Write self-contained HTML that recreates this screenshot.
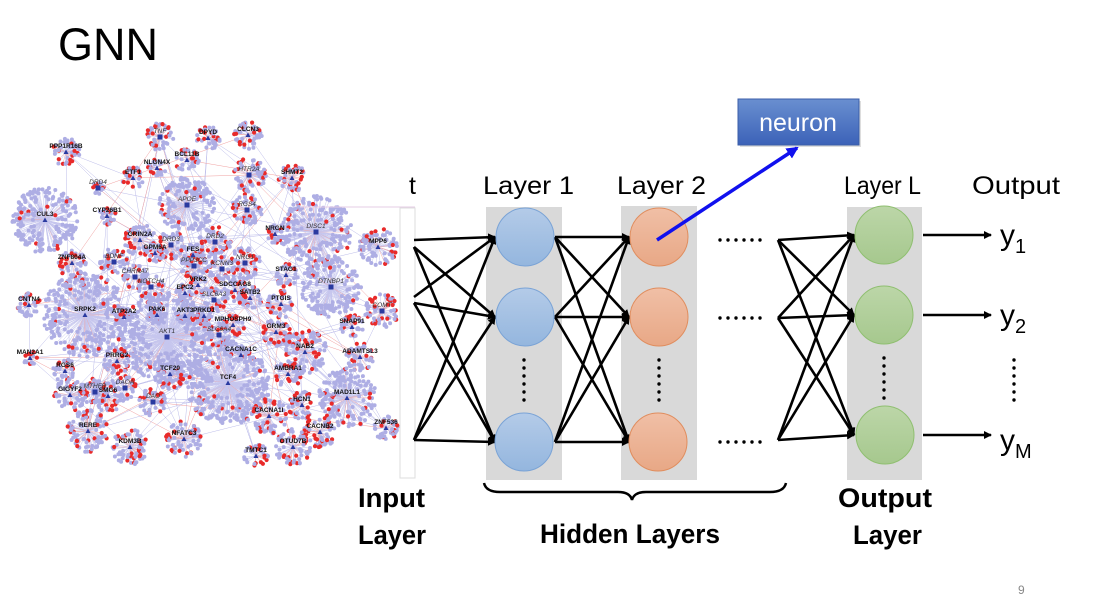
<!DOCTYPE html>
<html><head><meta charset="utf-8"><style>
html,body{margin:0;padding:0;background:#fff;}
svg{display:block;font-family:"Liberation Sans",sans-serif;}
</style></head><body>
<svg id="s" width="1098" height="606" viewBox="0 0 1098 606" xmlns="http://www.w3.org/2000/svg">
<defs>
<marker id="ah" markerWidth="8" markerHeight="8" refX="7" refY="4" orient="auto" markerUnits="userSpaceOnUse"><path d="M0,0 L8,4 L0,8 Z" fill="#000"/></marker>
<marker id="bh" markerWidth="12" markerHeight="12" refX="10" refY="6" orient="auto" markerUnits="userSpaceOnUse"><path d="M0,0 L12,6 L0,12 Z" fill="#1010ee"/></marker>
<linearGradient id="ng" x1="0" y1="0" x2="0" y2="1"><stop offset="0" stop-color="#6a8fd0"/><stop offset="1" stop-color="#3c62b8"/></linearGradient>
<linearGradient id="bg1" x1="0" y1="0" x2="0" y2="1"><stop offset="0" stop-color="#b4cbe8"/><stop offset="1" stop-color="#94b6de"/></linearGradient>
<linearGradient id="og1" x1="0" y1="0" x2="0" y2="1"><stop offset="0" stop-color="#f0bfa6"/><stop offset="1" stop-color="#e8a886"/></linearGradient>
<linearGradient id="gg1" x1="0" y1="0" x2="0" y2="1"><stop offset="0" stop-color="#bcd6a8"/><stop offset="1" stop-color="#a6c88e"/></linearGradient>
</defs>
<text x="58" y="60" font-size="45" fill="#000">GNN</text>
<g id="net"></g>
<rect x="400" y="208" width="15" height="270" fill="#fff" stroke="#ddd" stroke-width="1"/>
<line x1="300" y1="207" x2="415" y2="207" stroke="#e6cde6" stroke-width="1"/>
<rect x="486" y="207" width="76" height="273" fill="#d9d9d9"/>
<rect x="621" y="206" width="76" height="274" fill="#d9d9d9"/>
<rect x="847" y="207" width="75" height="273" fill="#d9d9d9"/>
<g id="lines" stroke="#000" stroke-width="2.6" fill="none"></g>
<g stroke-width="1">
<circle cx="525" cy="237" r="29" fill="url(#bg1)" stroke="#7aa3d6"/>
<circle cx="525" cy="317" r="29" fill="url(#bg1)" stroke="#7aa3d6"/>
<circle cx="524" cy="442" r="29" fill="url(#bg1)" stroke="#7aa3d6"/>
<circle cx="659" cy="237" r="29" fill="url(#og1)" stroke="#e08d5e"/>
<circle cx="659" cy="317" r="29" fill="url(#og1)" stroke="#e08d5e"/>
<circle cx="658" cy="442" r="29" fill="url(#og1)" stroke="#e08d5e"/>
<circle cx="884" cy="235" r="29" fill="url(#gg1)" stroke="#8fbf70"/>
<circle cx="884" cy="315" r="29" fill="url(#gg1)" stroke="#8fbf70"/>
<circle cx="885" cy="435" r="29" fill="url(#gg1)" stroke="#8fbf70"/>
</g>
<g id="dots" fill="#000"></g>
<rect x="740" y="101" width="121" height="46" fill="#aaa" opacity="0.4"/>
<rect x="738" y="99" width="121" height="46" fill="url(#ng)" stroke="#3b5ea8" stroke-width="1"/>
<text x="798" y="131" font-size="25" fill="#fff" text-anchor="middle">neuron</text>
<line x1="657" y1="240" x2="797" y2="148" stroke="#1010ee" stroke-width="3.5" marker-end="url(#bh)"/>
<g font-size="25" fill="#000">
<text x="409" y="194">t</text>
<text x="483" y="194" textLength="91" lengthAdjust="spacingAndGlyphs">Layer 1</text>
<text x="617" y="194" textLength="89" lengthAdjust="spacingAndGlyphs">Layer 2</text>
<text x="844" y="194" textLength="77" lengthAdjust="spacingAndGlyphs">Layer L</text>
<text x="972" y="194" textLength="88" lengthAdjust="spacingAndGlyphs">Output</text>
<text x="1000" y="245" font-size="30">y<tspan font-size="20" dy="8">1</tspan></text>
<text x="1000" y="325" font-size="30">y<tspan font-size="20" dy="8">2</tspan></text>
<text x="1000" y="450" font-size="30">y<tspan font-size="20" dy="8">M</tspan></text>
</g>
<g font-size="27" font-weight="bold" fill="#000">
<text x="358" y="507" textLength="67" lengthAdjust="spacingAndGlyphs">Input</text>
<text x="358" y="544" textLength="68" lengthAdjust="spacingAndGlyphs">Layer</text>
<text x="540" y="543" textLength="180" lengthAdjust="spacingAndGlyphs">Hidden Layers</text>
<text x="838" y="507" textLength="94" lengthAdjust="spacingAndGlyphs">Output</text>
<text x="853" y="544" textLength="69" lengthAdjust="spacingAndGlyphs">Layer</text>
</g>
<path d="M484,483 Q486,492 500,492 L618,492 Q630,492 632,500 Q634,492 646,492 L770,492 Q784,492 786,483" fill="none" stroke="#000" stroke-width="2.5"/>
<text x="1018" y="594" font-size="12" fill="#888">9</text>
</svg>
<script>
(function(){
var NS="http://www.w3.org/2000/svg";
function el(p,n,a){var e=document.createElementNS(NS,n);for(var k in a)e.setAttribute(k,a[k]);p.appendChild(e);return e;}
var L=document.getElementById('lines');
function ar(x1,y1,x2,y2){el(L,'line',{x1:x1,y1:y1,x2:x2,y2:y2,'marker-end':'url(#ah)'});}
var c1=[237,317,442];
[[240,[0]],[247,[1,2]],[297,[0]],[303,[1,2]],[440,[0,1,2]]].forEach(function(s){s[1].forEach(function(i){ar(414,s[0],495,c1[i]);});});
for(var i=0;i<3;i++)for(var j=0;j<3;j++)ar(555,c1[i],629,c1[j]);
var cL=[235,315,435],sL=[240,318,440];
for(var i=0;i<3;i++)for(var j=0;j<3;j++)ar(778,sL[i],854,cL[j]);
for(var i=0;i<3;i++)ar(923,cL[i],991,cL[i]);
var D=document.getElementById('dots');
[240,318,442].forEach(function(y){for(var k=0;k<6;k++)el(D,'circle',{cx:720+k*8,cy:y,r:1.7});});
[[524,0],[659,0],[884,-2],[1014,0]].forEach(function(p){for(var k=0;k<6;k++)el(D,'circle',{cx:p[0],cy:360+p[1]+k*8,r:1.7});});
var N=document.getElementById('net');
var seed=7;function r(){seed=(seed*16807)%2147483647;return (seed-1)/2147483646;}
var H=[["TNF",160,137,14,1],["DPYD",208,138,12,0],["CLCN3",248,135,14,0],["PPP1R16B",66,152,14,0],["BCL11B",187,160,12,0],["NLGN4X",157,168,9,0],["ETF1",133,178,11,0],["HTR2A",249,175,17,1],["SHMT2",292,178,14,0],["DRD4",98,188,6,1],["APOE",187,205,28,1],["CYP26B1",107,216,9,0],["RGS4",247,210,16,1],["CUL3",45,220,33,0],["DISC1",316,232,36,1],["NRGN",275,234,9,0],["GRIN2A",140,240,16,0],["DRD3",171,245,14,1],["FES",193,255,12,0],["DRD2",215,242,16,1],["GPM6A",155,253,9,0],["MPP6",378,247,19,0],["ZNF804A",72,263,14,0],["BDNF",114,262,14,1],["PPP3CC",194,266,14,1],["KCNN3",222,269,14,1],["NRG1",245,263,16,1],["STAG1",286,275,12,0],["CHRNA7",135,277,12,1],["VRK2",198,285,9,0],["NOTCH4",151,287,14,1],["EPC2",185,293,9,0],["SDCCAG8",235,290,12,0],["DTNBP1",331,287,30,1],["SATB2",250,298,12,0],["SLC6A3",214,300,12,1],["PTGIS",281,304,14,0],["CNTN4",29,305,12,0],["SRPK2",85,315,42,0],["ATP2A2",124,317,9,0],["PAK6",157,315,9,0],["AKT3",185,316,9,0],["PRKD1",204,316,9,0],["COMT",382,311,17,1],["MPHOSPH9",233,325,12,0],["SNAP91",352,327,12,0],["GRM3",276,332,14,0],["SLC6A4",219,335,12,1],["AKT1",167,337,46,1],["NAB2",305,352,22,0],["CACNA1C",241,355,9,0],["MAN2A1",30,358,7,0],["ADAMTSL3",360,357,14,0],["PRRG2",117,361,14,0],["RGS6",65,371,12,0],["TCF20",170,374,16,0],["AMBRA1",288,374,14,0],["TCF4",228,383,42,0],["MTHFR",95,392,14,1],["DAOA",125,388,12,1],["GIGYF2",70,395,16,0],["SMG6",108,396,16,0],["DAO",153,402,14,1],["MAD1L1",347,398,30,0],["HCN1",302,405,14,0],["CACNA1I",269,416,18,0],["ZNF536",386,428,12,0],["RERE",88,431,21,0],["CACNB2",320,432,16,0],["NFATC3",184,439,18,0],["KDM3B",130,447,18,0],["OTUD7B",293,447,18,0],["TMTC1",256,456,12,0]];
var eg=el(N,'g',{'stroke-width':0.5});
var dg=el(N,'g',{});
for(var i=0;i<160;i++){var a=H[Math.floor(r()*H.length)],b=H[Math.floor(r()*H.length)];el(eg,'line',{x1:a[1],y1:a[2],x2:b[1],y2:b[2],stroke:r()<0.2?'#f0a0a0':'#bcbcea'});}
H.forEach(function(h){
 var R=h[3],n=Math.round(R*R/6)+10;
 for(var k=0;k<n;k++){
  var ang=r()*6.283,d=R*(0.3+0.7*Math.sqrt(r()));
  var x=h[1]+Math.cos(ang)*d,y=h[2]+Math.sin(ang)*d;
  var red=r()<(R>25?0.06:0.3);
  el(eg,'line',{x1:h[1],y1:h[2],x2:x,y2:y,stroke:red?'#f0a8a8':'#c6c6ee'});
  el(dg,'circle',{cx:x.toFixed(1),cy:y.toFixed(1),r:red?2.1:2,fill:red?'#e82a2a':'#aeaee4'});
 }
});
var lg=el(N,'g',{'font-size':6.5,'font-weight':'bold',fill:'#111'});
H.forEach(function(h){
 if(h[4])el(N,'rect',{x:h[1]-2.5,y:h[2]-2.5,width:5,height:5,fill:'#2a3aa0'});
 else el(N,'path',{d:'M'+(h[1]-2.5)+','+(h[2]+2)+' L'+h[1]+','+(h[2]-2.5)+' L'+(h[1]+2.5)+','+(h[2]+2)+'Z',fill:'#2a3aa0'});
 var t=el(lg,'text',{x:h[1],y:h[2]-4,'text-anchor':'middle'});
 if(h[4]){t.setAttribute('font-style','italic');t.setAttribute('font-weight','normal');t.setAttribute('fill','#333');}
 t.textContent=h[0];
});
})();
</script>
</body></html>
